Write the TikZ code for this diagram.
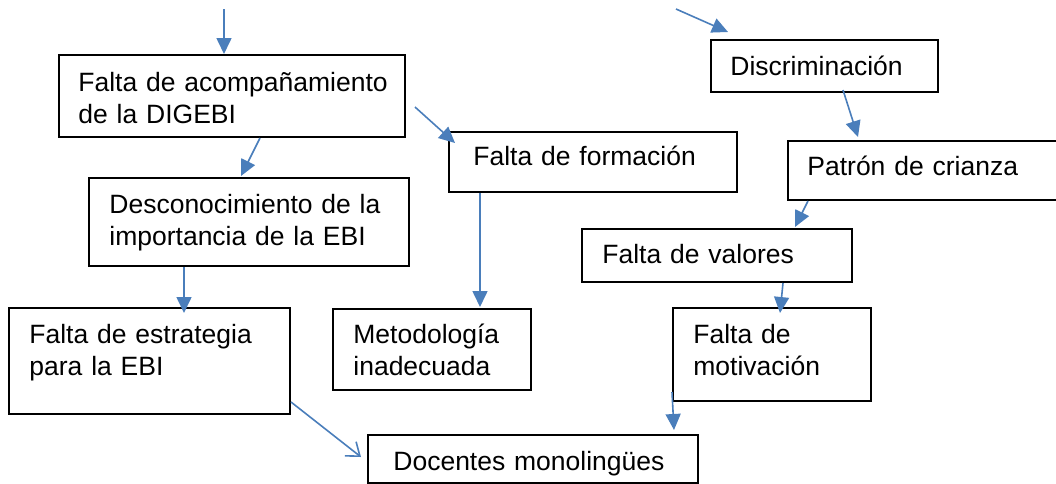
\documentclass[tikz,border=0pt]{standalone}
\usepackage{fontspec}
\setmainfont{Liberation Sans}
\usetikzlibrary{arrows.meta,calc}
\definecolor{azul}{RGB}{74,126,187}

\begin{document}
\begin{tikzpicture}[x=0.5pt,y=-0.5pt,
  caja/.style={draw,line width=1pt,anchor=north west,inner sep=0pt},
  texto/.style={anchor=base west,inner sep=0pt,text width=170pt,align=left,
    font=\fontsize{13.25}{16.35}\selectfont},
  flecha/.style={draw=azul,line width=0.8pt,-{Triangle[length=8pt,width=7.5pt]}},
  abierta/.style={draw=azul,line width=0.8pt,-{Straight Barb[length=6pt,width=9pt]}}]
  \useasboundingbox (0,0) rectangle (1056,483);

  % cajas
  \node[caja,minimum width=173pt,minimum height=41pt] (b1) at (58,54) {};
  \node[caja,minimum width=160pt,minimum height=44pt] (b2) at (88,177) {};
  \node[caja,minimum width=140.5pt,minimum height=53pt] (b3) at (8,307) {};
  \node[caja,minimum width=144pt,minimum height=30pt] (b4) at (448,131) {};
  \node[caja,minimum width=99pt,minimum height=40.5pt] (b5) at (332,308) {};
  \node[caja,minimum width=113.5pt,minimum height=26pt] (b6) at (710,39) {};
  \node[caja,minimum width=141.5pt,minimum height=29.5pt] (b7) at (787,140) {};
  \node[caja,minimum width=135pt,minimum height=26.5pt] (b8) at (581,228) {};
  \node[caja,minimum width=99pt,minimum height=46.5pt] (b9) at (672,307) {};
  \node[caja,minimum width=165pt,minimum height=24pt] (b10) at (367,434) {};

  % textos
  \node[texto] (t1) at ([xshift=10pt,yshift=-18.5pt]b1.north west) {Falta de acompañamiento\\de la DIGEBI};
  \node[texto] (t2) at ([xshift=10.5pt,yshift=-18pt]b2.north west) {Desconocimiento de la\\importancia de la EBI};
  \node[texto] (t3) at ([xshift=10.5pt,yshift=-18pt]b3.north west) {Falta de estrategia\\para la EBI};
  \node[texto] (t4) at ([xshift=12.5pt,yshift=-17pt]b4.north west) {Falta de formación};
  \node[texto] (t5) at ([xshift=10.5pt,yshift=-17.5pt]b5.north west) {Metodología\\inadecuada};
  \node[texto] (t6) at ([xshift=10pt,yshift=-18pt]b6.north west) {Discriminación};
  \node[texto] (t7) at ([xshift=10pt,yshift=-17.5pt]b7.north west) {Patrón de crianza};
  \node[texto] (t8) at ([xshift=10.5pt,yshift=-17.5pt]b8.north west) {Falta de valores};
  \node[texto] (t9) at ([xshift=10.5pt,yshift=-18pt]b9.north west) {Falta de\\motivación};
  \node[texto] (t10) at ([xshift=13pt,yshift=-18pt]b10.north west) {Docentes monolingües};

  % flechas
  \coordinate (s0) at (224,9);
  \coordinate (s5) at (676,9);
  \draw[flecha] (s0) -- (s0 |- b1.north);
  \draw[flecha] ($(b1.south west)+(202,0)$) -- ($(b2.north west)+(153,-1)$);
  \draw[flecha] ($(b1.north east)+(9,53)$) -- ($(b4.north west)+(7,12)$);
  \draw[flecha] ($(b4.south west)+(32,0)$) -- ($(b5.north west)+(148,-1)$);
  \draw[flecha] ($(b2.south west)+(96,0)$) -- ($(b3.north west)+(176,6)$);
  \draw[flecha] (s5) -- ($(b6.north west)+(18,-7)$);
  \draw[flecha] ($(b6.south west)+(133,-3)$) -- ($(b7.north west)+(71,-3)$);
  \draw[flecha] ($(b7.south west)+(21,0)$) -- ($(b8.north west)+(214,-1)$);
  \draw[flecha] ($(b8.south west)+(202,0)$) -- ($(b9.north west)+(108,6)$);
  \draw[flecha] ($(b9.south west)+(0,-10)$) -- ($(b10.north east)+(-25,-4)$);
  \draw[abierta] ($(b3.south east)+(0,-13)$) -- ($(b10.north west)+(-6,23)$);
\end{tikzpicture}
\end{document}
